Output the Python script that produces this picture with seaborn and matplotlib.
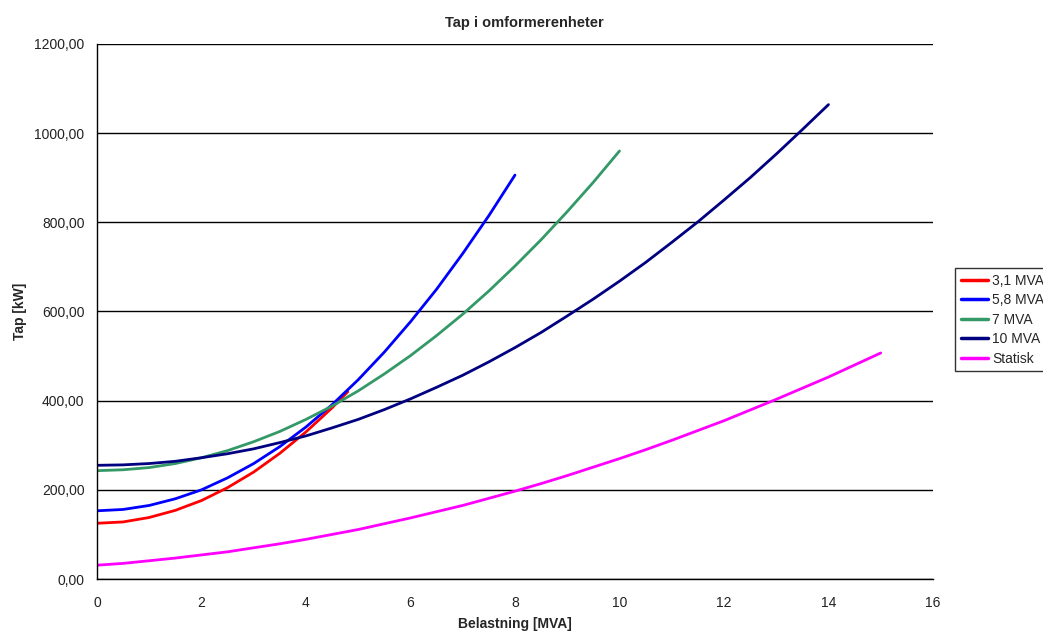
import numpy as np
import pandas as pd
import matplotlib
matplotlib.use('Agg')
import matplotlib.pyplot as plt
from matplotlib.ticker import FuncFormatter, MultipleLocator
import seaborn as sns

# ── verdier lest av figuren (kW) ──
x_31 = [0, 0.5, 1, 1.5, 2, 2.5, 3, 3.5, 4, 4.5, 4.8]
y_31 = [125, 128, 138, 154, 176, 205, 240, 282, 330, 384, 420]

x_58 = [0, 0.5, 1, 1.5, 2, 2.5, 3, 3.5, 4, 4.5, 5, 5.5, 6, 6.5, 7, 7.5, 8]
y_58 = [153, 156, 165, 180, 200, 227, 259, 297, 341, 391, 447, 509, 577, 650, 730, 815, 906]

x_7 = [0, 0.5, 1, 1.5, 2, 2.5, 3, 3.5, 4, 4.5, 5, 5.5, 6, 6.5, 7, 7.5, 8, 8.5, 9, 9.5, 10]
y_7 = [243, 245, 250, 259, 272, 288, 308, 331, 358, 388, 422, 460, 501, 546, 594, 646,
       702, 761, 824, 890, 960]

x_10 = [0, 0.5, 1, 1.5, 2, 2.5, 3, 3.5, 4, 4.5, 5, 5.5, 6, 6.5, 7, 7.5, 8, 8.5, 9, 9.5,
        10, 10.5, 11, 11.5, 12, 12.5, 13, 13.5, 14]
y_10 = [255, 256, 259, 264, 272, 281, 292, 306, 321, 339, 358, 380, 404, 430, 457, 487,
        519, 553, 590, 628, 668, 710, 755, 801, 850, 900, 953, 1008, 1064]

x_stat = [0, 0.5, 1, 1.5, 2, 2.5, 3, 3.5, 4, 4.5, 5, 5.5, 6, 6.5, 7, 7.5, 8, 8.5, 9, 9.5,
          10, 10.5, 11, 11.5, 12, 12.5, 13, 13.5, 14, 14.5, 15]
y_stat = [31, 35, 41, 47, 54, 61, 70, 79, 89, 100, 111, 124, 137, 151, 165, 181, 197, 214,
          232, 251, 270, 290, 311, 333, 355, 379, 403, 428, 453, 480, 507]

SERIES = ["3,1 MVA", "5,8 MVA", "7 MVA", "10 MVA", "Statisk"]
COLORS = ["#FF0000", "#0000FF", "#339966", "#000080", "#FF00FF"]

frames = []
for name, xs, ys in zip(SERIES, [x_31, x_58, x_7, x_10, x_stat],
                        [y_31, y_58, y_7, y_10, y_stat]):
    frames.append(pd.DataFrame({"Belastning": xs, "Tap": ys, "Serie": name}))
df = pd.concat(frames, ignore_index=True)

sns.set_style('white')
plt.rcParams['font.family'] = ['Liberation Sans', 'DejaVu Sans']
plt.rcParams['font.size'] = 10

fig = plt.figure(figsize=(10.43, 6.33), dpi=100)
ax = fig.add_axes([0.093, 0.0853, 0.8015, 0.8452])

sns.lineplot(data=df, x="Belastning", y="Tap", hue="Serie", hue_order=SERIES,
             palette=dict(zip(SERIES, COLORS)), linewidth=2, ax=ax,
             estimator=None, sort=False)

ax.set_xlim(0, 16)
ax.set_ylim(0, 1200)
ax.xaxis.set_major_locator(MultipleLocator(2))
ax.yaxis.set_major_locator(MultipleLocator(200))
ax.yaxis.set_major_formatter(FuncFormatter(lambda v, p: f"{v:.2f}".replace('.', ',')))
ax.xaxis.set_major_formatter(FuncFormatter(lambda v, p: f"{int(v)}"))

for s in ['top', 'right']:
    ax.spines[s].set_visible(False)
for s in ['left', 'bottom']:
    ax.spines[s].set_color('black')
    ax.spines[s].set_linewidth(1)
ax.tick_params(axis='both', direction='out', length=4, width=1, color='black',
               labelsize=10, labelcolor='#222222')
ax.tick_params(axis='y', pad=5)
ax.tick_params(axis='x', pad=8)
ax.yaxis.grid(True, color='black', linewidth=1)
ax.set_axisbelow(True)
fig.canvas.draw()
ax.yaxis.get_gridlines()[-1].set_visible(False)

ax.set_xlabel("Belastning [MVA]", fontsize=10, fontweight='bold', labelpad=5)
ax.set_ylabel("Tap [kW]", fontsize=10, fontweight='bold', labelpad=5)
fig.text(0.503, 0.963, "Tap i omformerenheter", ha='center', va='center',
         fontsize=10.5, fontweight='bold')

leg = ax.legend(loc='upper left', bbox_to_anchor=(0.9156, 0.5766),
                bbox_transform=fig.transFigure, frameon=True, fancybox=False,
                fontsize=10, handlelength=2.0, handletextpad=0.3,
                labelspacing=0.4, borderpad=0.4, borderaxespad=0)
leg.get_frame().set_edgecolor('black')
leg.get_frame().set_linewidth(1)
for line in leg.get_lines():
    line.set_linewidth(2.5)

fig.savefig("out.png", dpi=100)
